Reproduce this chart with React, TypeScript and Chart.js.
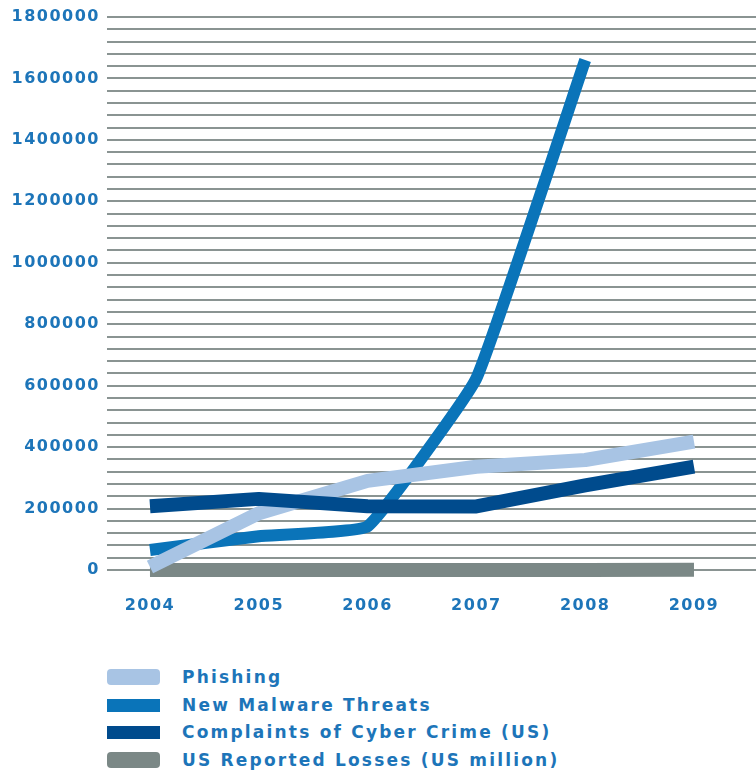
import React, { useEffect, useRef } from "react";
import { Chart, registerables } from "chart.js";

Chart.register(...registerables);

const years = [2004, 2005, 2006, 2007, 2008, 2009];
const phishing = [10000, 185000, 290000, 336000, 358000, 418000];
const malware = [65000, 110000, 142000, 624000, 1660000, null];
const complaints = [207449, 231493, 207492, 206884, 275284, 336655];
const losses = [68, 183, 198, 240, 265, 560];
const seriesLabels = [
  "Phishing",
  "New Malware Threats",
  "Complaints of Cyber Crime (US)",
  "US Reported Losses (US million)",
];
const seriesColors = ["#a8c4e4", "#0a74b9", "#004b8d", "#7b8886"];

const textColor = "#1d75b9";
const fontFamily = "'DejaVu Sans', sans-serif";

const toPoints = (arr: (number | null)[]) =>
  years.map((y, i) => ({ x: y, y: arr[i] }));

export default function App() {
  const ref = useRef<HTMLCanvasElement | null>(null);

  useEffect(() => {
    document.body.style.margin = "0";
    const canvas = ref.current;
    if (!canvas) return;
    const spacingPlugin = {
      id: "spacing",
      beforeDraw(chart: any) {
        chart.ctx.letterSpacing = "1.5px";
      },
      afterDraw(chart: any) {
        chart.ctx.letterSpacing = "0px";
      },
    };
    const common = {
      fill: false,
      pointRadius: 0,
      pointHoverRadius: 0,
      tension: 0,
      borderCapStyle: "butt" as const,
      borderJoinStyle: "round" as const,
      clip: false as const,
      spanGaps: false,
    };
    const chart = new Chart(canvas, {
      type: "line",
      data: {
        datasets: [
          {
            ...common,
            label: seriesLabels[2],
            data: toPoints(complaints),
            borderColor: seriesColors[2],
            borderWidth: 14,
            order: 0,
          },
          {
            ...common,
            label: seriesLabels[0],
            data: toPoints(phishing),
            borderColor: seriesColors[0],
            borderWidth: 14,
            order: 1,
          },
          {
            ...common,
            label: seriesLabels[1],
            data: toPoints(malware),
            borderColor: seriesColors[1],
            borderWidth: 12,
            tension: 0.1,
            order: 2,
          },
          {
            ...common,
            label: seriesLabels[3],
            data: toPoints(losses),
            borderColor: seriesColors[3],
            borderWidth: 14,
            order: 3,
          },
        ] as any,
      },
      options: {
        animation: false,
        responsive: false,
        devicePixelRatio: 1,
        layout: { padding: { top: 17, right: 0, bottom: 0, left: 0 } },
        plugins: {
          legend: { display: false },
          tooltip: { enabled: false },
        },
        scales: {
          x: {
            type: "linear",
            min: 2003.605,
            max: 2009.57,
            afterBuildTicks: (scale: any) => {
              scale.ticks = years.map((v) => ({ value: v }));
            },
            afterFit: (scale: any) => {
              scale.height = 70;
            },
            grid: { display: false, drawTicks: false },
            border: { display: false },
            ticks: {
              autoSkip: false,
              maxRotation: 0,
              padding: 26,
              color: textColor,
              font: { family: fontFamily, size: 16, weight: "bold" },
              callback: (v: any) => String(v),
            },
          },
          y: {
            type: "linear",
            min: 0,
            max: 1800000,
            afterFit: (scale: any) => {
              scale.width = 107;
            },
            grid: {
              color: "#8a9492",
              lineWidth: 2,
              drawTicks: false,
            },
            border: { display: false },
            ticks: {
              stepSize: 40000,
              autoSkip: false,
              padding: 7,
              color: textColor,
              font: { family: fontFamily, size: 16, weight: "bold" },
              callback: (v: any) => (Number(v) % 200000 === 0 ? String(v) : ""),
            },
          },
        },
      } as any,
      plugins: [spacingPlugin],
    });
    return () => chart.destroy();
  }, []);

  const rowCenters = [677, 705, 732, 760];
  const swatchHeights = [16, 13, 13, 16];
  const swatchRadius = [4, 0, 0, 4];
  return (
    <div style={{ position: "relative", width: 756, height: 773, background: "#fff" }}>
      <canvas
        ref={ref}
        width={756}
        height={640}
        style={{ position: "absolute", left: 0, top: 0, width: 756, height: 640 }}
      />
      {seriesLabels.map((label, i) => (
        <div
          key={label}
          style={{
            position: "absolute",
            left: 0,
            top: rowCenters[i] - 12,
            height: 24,
            width: 756,
          }}
        >
          <div
            style={{
              position: "absolute",
              left: 107,
              top: 12 - swatchHeights[i] / 2,
              width: 53,
              height: swatchHeights[i],
              background: seriesColors[i],
              borderRadius: swatchRadius[i],
            }}
          />
          <div
            style={{
              position: "absolute",
              left: 182,
              top: 0,
              height: 24,
              lineHeight: "24px",
              fontFamily,
              fontWeight: "bold",
              fontSize: 17,
              letterSpacing: "2.2px",
              color: textColor,
              whiteSpace: "nowrap",
            }}
          >
            {label}
          </div>
        </div>
      ))}
    </div>
  );
}
